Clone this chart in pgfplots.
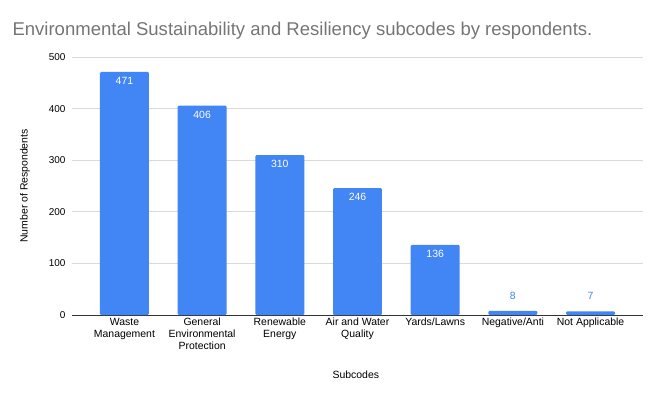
\documentclass[border=0pt]{standalone}
\usepackage{pgfplots}
\pgfplotsset{compat=1.18}
\usepackage{fontspec}
\setmainfont{Liberation Sans}
\definecolor{barblue}{HTML}{4285F4}
\definecolor{titlegray}{HTML}{757575}
\definecolor{gridgray}{HTML}{D9D9D9}
\definecolor{axisgray}{HTML}{333333}
\begin{document}
\begin{tikzpicture}[x=1bp,y=1bp]
\path[use as bounding box] (0,0) rectangle (661,399);
\node[anchor=west, text=titlegray, font=\fontsize{18.6}{22}\selectfont] at (9,368) {Environmental Sustainability and Resiliency subcodes by respondents.};
\begin{axis}[
  at={(72bp,84bp)}, anchor=south west,
  scale only axis, width=571bp, height=258bp,
  xmin=-0.675, xmax=6.675, ymin=0, ymax=500,
  ytick={0,100,200,300,400,500},
  ymajorgrids, grid style={draw=gridgray, line width=0.8pt},
  axis x line*=bottom, axis y line*=left,
  y axis line style={draw=none},
  x axis line style={draw=axisgray, line width=0.8pt, -},
  tick style={draw=none},
  xtick={0,1,2,3,4,5,6},
  xticklabels={{Waste\\Management},{General\\Environmental\\Protection},{Renewable\\Energy},{Air and Water\\Quality},{Yards/Lawns},{Negative/Anti},{Not Applicable}},
  xticklabel style={align=center, font=\fontsize{10.5}{12}\selectfont, inner sep=1pt, yshift=-2pt},
  yticklabel style={font=\fontsize{10}{12}\selectfont, xshift=-3pt},
  /pgf/number format/assume math mode=true,
  xlabel={Subcodes}, ylabel={Number of Respondents},
  xlabel style={at={(axis description cs:0.497,-0.23)}, anchor=center, font=\fontsize{10.5}{12}\selectfont},
  ylabel style={at={(axis description cs:-0.0823,0.5)}, anchor=center, font=\fontsize{10.5}{12}\selectfont},
  bar width=0.63,
]
\addplot[ybar, bar shift=0pt, fill=barblue, draw=none, rounded corners=1.2pt,
  nodes near coords,
  every node near coord/.append style={text=white, font=\fontsize{10.5}{12}\selectfont, anchor=north, yshift=-2pt, rounded corners=0pt}]
  coordinates {(0,471) (1,406) (2,310) (3,246) (4,136)};
\addplot[ybar, bar shift=0pt, fill=barblue, draw=none, rounded corners=1.2pt,
  nodes near coords,
  every node near coord/.append style={text=barblue, font=\fontsize{10.5}{12}\selectfont, anchor=south, yshift=8pt, rounded corners=0pt}]
  coordinates {(5,8) (6,7)};
\end{axis}
\end{tikzpicture}
\end{document}
